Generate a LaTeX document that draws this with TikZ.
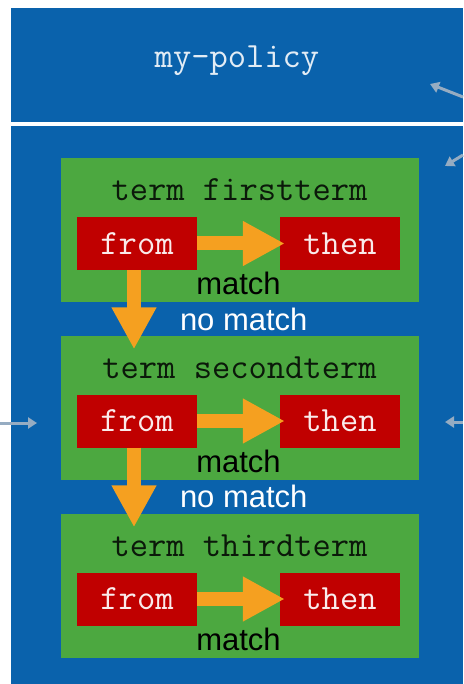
\documentclass[tikz,border=0pt]{standalone}
\usepackage{fontspec}
\setsansfont{Liberation Sans}
\usetikzlibrary{arrows.meta}
\definecolor{policyblue}{RGB}{10,98,172}
\definecolor{termgreen}{RGB}{76,168,64}
\definecolor{actred}{RGB}{192,0,0}
\definecolor{flowgold}{RGB}{245,160,32}
\definecolor{linkgrey}{RGB}{150,172,194}
\tikzset{bbox/.style={
    rectangle,
    fill=policyblue,
    inner sep=0,
    minimum width=452pt
  },
  tbox/.style={rectangle,fill=termgreen,minimum width=358pt,minimum height=144pt},
  rbox/.style={
    rectangle,
    fill=actred,
    inner sep=0,
    minimum width=120pt,
    minimum height=53pt,
    text=white!92!actred,
    font=\ttfamily\fontsize{35.5}{36}\selectfont
  },
  ttext/.style={inner sep=0,text=black!85!termgreen,font=\ttfamily\fontsize{35.5}{36}\selectfont},
  lbl/.style={inner sep=0,font=\sffamily\fontsize{31}{31}\selectfont},
  flow/.style={draw=flowgold,line width=14pt,-{Triangle[width=42pt,length=42pt]}},
  link/.style={draw=linkgrey,line width=3pt,-{Triangle[width=11pt,length=9pt]}},
}
\begin{document}
\begin{tikzpicture}[x=1pt,y=-1pt]
  \path[use as bounding box,fill=white] (0,0) rectangle (463,684);
  % policy header and body
  \node[bbox,minimum height=114pt] (policy) at (237,65) {};
  \node[ttext,text=white!88!policyblue] (policyname) at ([yshift=4pt]policy.center) {my-policy};
  \node[bbox,anchor=north west,minimum height=558pt] (body) at (11,126) {};

  % first term
  \node[tbox] (term1) at (239.5,230) {};
  \node[ttext] (title1) at ([yshift=-32pt]term1.north) {term firstterm};
  \node[rbox] (from1) at ([xshift=-102.5pt,yshift=-13.5pt]term1.center) {from};
  \node[rbox] (then1) at ([xshift=100.5pt,yshift=-13.5pt]term1.center) {then};

  % second term
  \node[tbox] (term2) at (239.5,407.5) {};
  \node[ttext] (title2) at ([yshift=-32pt]term2.north) {term secondterm};
  \node[rbox] (from2) at ([xshift=-102.5pt,yshift=-13.5pt]term2.center) {from};
  \node[rbox] (then2) at ([xshift=100.5pt,yshift=-13.5pt]term2.center) {then};

  % third term
  \node[tbox] (term3) at (239.5,585.5) {};
  \node[ttext] (title3) at ([yshift=-32pt]term3.north) {term thirdterm};
  \node[rbox] (from3) at ([xshift=-102.5pt,yshift=-13.5pt]term3.center) {from};
  \node[rbox] (then3) at ([xshift=100.5pt,yshift=-13.5pt]term3.center) {then};

  % match / no match flow
  \draw[flow,shorten >=-5pt] (from1) -- node[lbl,below=22pt] {match} (then1);
  \draw[flow,shorten >=-14pt] ([xshift=-3pt]from1.south) -- node[lbl,pos=0.75,right=39pt,text=white] {no match}
    ([xshift=-3pt]from1.south |- term2.north);
  \draw[flow,shorten >=-5pt] (from2) -- node[lbl,below=22pt] {match} (then2);
  \draw[flow,shorten >=-14pt] ([xshift=-3pt]from2.south) -- node[lbl,pos=0.75,right=39pt,text=white] {no match}
    ([xshift=-3pt]from2.south |- term3.north);
  \draw[flow,shorten >=-5pt] (from3) -- node[lbl,below=22pt] {match} (then3);

  % links coming in from outside
  \coordinate (in1) at (463,97);
  \coordinate (in1end) at (430,84);
  \coordinate (in2) at (463,155);
  \coordinate (in2end) at (445,166);
  \coordinate (in3) at (0,423);
  \coordinate (in3end) at (37,423);
  \coordinate (in4) at (463,422);
  \coordinate (in4end) at (445,422);
  \draw[link] (in1) -- (in1end);
  \draw[link] (in2) -- (in2end);
  \draw[link] (in3) -- (in3end);
  \draw[link] (in4) -- (in4end);
\end{tikzpicture}
\end{document}
